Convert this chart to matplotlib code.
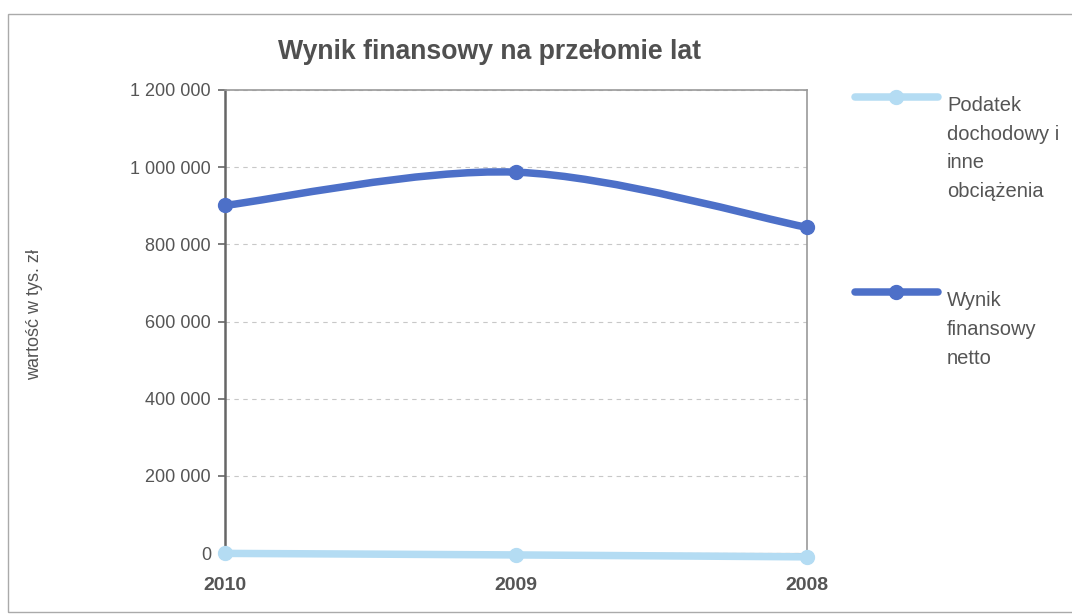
import matplotlib
matplotlib.use("Agg")
import matplotlib.pyplot as plt
from matplotlib.path import Path
from matplotlib.patches import PathPatch, Rectangle
from matplotlib.lines import Line2D
from matplotlib.ticker import FuncFormatter, MultipleLocator

# ---- data ----
years = ["2010", "2009", "2008"]
podatek = [-1000, -5000, -10000]
wynik_netto = [901000, 987000, 844000]
series_labels = ["Podatek\ndochodowy i\ninne\nobciążenia", "Wynik\nfinansowy\nnetto"]
title = "Wynik finansowy na przełomie lat"
ylabel = "wartość w tys. zł"

# ---- style ----
plt.rcParams['font.family'] = ['Liberation Sans', 'DejaVu Sans']
c_light = "#b4dcf3"
c_dark = "#4d70c8"
c_text = "#555555"
c_axis = "#666666"

fig = plt.figure(figsize=(10.72, 6.14), dpi=100)
W, H = 1072, 614
ax = fig.add_axes([225 / W, 1 - 553 / H, (807 - 225) / W, (553 - 90) / H])

x = list(range(len(years)))


def smooth_path(xs, ys):
    """Excel-like smoothed line as cubic Bezier path (rendered by matplotlib)."""
    n = len(xs)
    verts = [(xs[0], ys[0])]
    codes = [Path.MOVETO]
    for i in range(n - 1):
        p_prev = (xs[i - 1], ys[i - 1]) if i > 0 else (xs[i], ys[i])
        p0 = (xs[i], ys[i])
        p1 = (xs[i + 1], ys[i + 1])
        p_next = (xs[i + 2], ys[i + 2]) if i + 2 < n else p1
        c1 = (p0[0] + (p1[0] - p_prev[0]) / 6, p0[1] + (p1[1] - p_prev[1]) / 6)
        c2 = (p1[0] - (p_next[0] - p0[0]) / 6, p1[1] - (p_next[1] - p0[1]) / 6)
        verts += [c1, c2, p1]
        codes += [Path.CURVE4] * 3
    return Path(verts, codes)


for vals, col in [(podatek, c_light), (wynik_netto, c_dark)]:
    patch = PathPatch(smooth_path(x, vals), facecolor="none", edgecolor=col,
                      lw=5.4, capstyle="round", joinstyle="round", zorder=3,
                      clip_on=False)
    ax.add_patch(patch)
    ax.plot(x, vals, linestyle="none", marker="o", ms=10, color=col,
            zorder=4, clip_on=False)

ax.set_xlim(0, 2)
ax.set_ylim(0, 1200000)
ax.yaxis.set_major_locator(MultipleLocator(200000))
ax.yaxis.set_major_formatter(FuncFormatter(lambda v, p: f"{int(v):,}".replace(",", " ")))
ax.set_xticks(x)
ax.set_xticklabels(years, fontsize=14, fontweight="bold", color=c_text)
ax.tick_params(axis="x", length=0, pad=17)
ax.tick_params(axis="y", length=5, width=1.2, color=c_axis, pad=5,
               labelsize=13, labelcolor=c_text)
ax.grid(axis="y", color="#c8c8c8", linestyle=(0, (4, 4)), lw=0.8)
ax.set_axisbelow(True)
for side in ["top", "right"]:
    ax.spines[side].set_color("#999999")
    ax.spines[side].set_linewidth(1.2)
ax.spines["left"].set_color(c_axis)
ax.spines["left"].set_linewidth(1.8)
ax.spines["bottom"].set_color("#999999")

fig.text(489 / W, 1 - 52 / H, title, fontsize=19.2, fontweight="bold",
         color="#505050", ha="center", va="center")
fig.text(35 / W, 1 - 315 / H, ylabel, rotation=90, fontsize=13,
         color=c_text, ha="center", va="center")

# legend (manual placement)
leg_items = [(c_light, 97, series_labels[0]), (c_dark, 292, series_labels[1])]
for col, ly, lab in leg_items:
    fig.add_artist(Line2D([855 / W, 938 / W], [1 - ly / H] * 2, color=col, lw=5.4,
                          transform=fig.transFigure, solid_capstyle="round"))
    fig.add_artist(Line2D([896 / W], [1 - ly / H], color=col, marker="o", ms=10,
                          transform=fig.transFigure))
    fig.text(947 / W, 1 - (ly - 1) / H, lab, fontsize=14.5, color=c_text,
             ha="left", va="top", linespacing=1.65)

# outer border
fig.add_artist(Rectangle((8 / W, 1 - 612 / H), 1.2, (612 - 14) / H,
                         transform=fig.transFigure, fill=False,
                         edgecolor="#aaaaaa", lw=1.0))

fig.savefig("out.png", dpi=100, facecolor="white")
